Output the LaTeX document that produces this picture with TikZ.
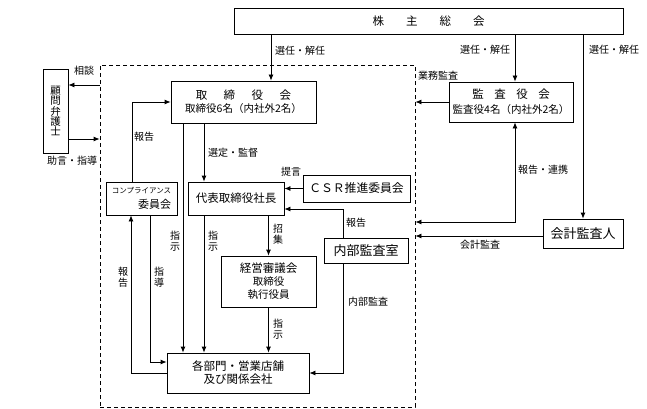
\documentclass[tikz,border=0pt]{standalone}
\usepackage{fontspec}
\setmainfont{Noto Sans CJK JP}
\usetikzlibrary{arrows.meta}
\begin{document}
\begin{tikzpicture}[x=1pt,y=-1pt,line width=0.8pt,>={Latex[length=6pt,width=5pt]},
    caja/.style={draw,inner sep=0pt,align=center,font=\fontsize{11.5}{13}\selectfont},
    etiq/.style={inner sep=0pt,align=center,font=\fontsize{10}{10.5}\selectfont}]
    \useasboundingbox (0,0) rectangle (647,409);
    		%marco
    		\node[draw,dash pattern=on 4pt off 3pt,minimum width=315pt,minimum height=342pt] at (257.5,236) (waku) {};
  		%%%% CAJAS!!!
  		\node[caja,minimum width=389pt,minimum height=26pt] at (428.5,21) (kabunushi) {株\hspace{22pt}主\hspace{22pt}総\hspace{22pt}会};
  		\node[caja,minimum width=25pt,minimum height=84pt,font=\fontsize{10.5}{10.4}\selectfont] at (55.5,111) (komon) {顧\\問\\弁\\護\\士};
  		\node[caja,minimum width=145pt,minimum height=42pt] at (243.5,102) (torishimari) {取\hspace{16.5pt}締\hspace{16.5pt}役\hspace{16.5pt}会\\{\fontsize{10.5}{13}\selectfont 取締役6名（内社外2名）}};
  		\node[caja,minimum width=124pt,minimum height=40pt,font=\fontsize{11.5}{15}\selectfont] at (511,102) (kansayaku) {監\hspace{10.5pt}査\hspace{10.5pt}役\hspace{10.5pt}会\\{\fontsize{10.5}{15}\selectfont 監査役4名（内社外2名）}};
  		\node[caja,minimum width=71pt,minimum height=33pt,align=right,font=\fontsize{11}{15}\selectfont] at (141.5,198.5) (compliance) {{\fontsize{7.5}{15}\selectfont コンプライアンス}\\委員会};
  		\node[caja,minimum width=96pt,minimum height=33pt] at (236,198.5) (daihyo) {代表取締役社長};
  		\node[caja,minimum width=107pt,minimum height=27pt,font=\fontsize{11.8}{13}\selectfont] at (356.5,188.5) (csr) {ＣＳＲ推進委員会};
  		\node[caja,minimum width=84pt,minimum height=25pt,font=\fontsize{13}{14}\selectfont] at (366,250.5) (naibukansa) {内部監査室};
  		\node[caja,minimum width=95pt,minimum height=51pt] at (268.5,281.5) (keiei) {経営審議会\\{\fontsize{10.5}{13}\selectfont 取締役}\\{\fontsize{10.5}{13}\selectfont 執行役員}};
  		\node[caja,minimum width=142pt,minimum height=40pt] at (238,373) (kakubumon) {各部門・営業店舗\\及び関係会社};
  		\node[caja,minimum width=80pt,minimum height=29pt,font=\fontsize{13}{14}\selectfont] at (583,233.5) (kaikei) {会計監査人};
  		%%%PUNTOS
  		\coordinate (torA) at ([xshift=27.5pt]torishimari.north);
  		\coordinate (torB) at ([xshift=-60.5pt]torishimari.south);
  		\coordinate (torC) at ([xshift=-39.5pt]torishimari.south);
  		\coordinate (kanA) at ([xshift=4pt]kansayaku.north);
  		\coordinate (kanB) at ([xshift=4pt]kansayaku.south);
  		\coordinate (komA) at ([yshift=26pt]komon.east);
  		\coordinate (komB) at ([yshift=-28pt]komon.east);
  		\coordinate (compA) at ([xshift=-9.5pt]compliance.north);
  		\coordinate (compB) at ([xshift=8.5pt]compliance.south);
  		\coordinate (compC) at ([xshift=-10.5pt]compliance.south);
  		\coordinate (kakA) at ([yshift=11pt]kakubumon.west);
  		\coordinate (daiA) at ([xshift=-32pt]daihyo.south);
  		\coordinate (daiB) at ([yshift=-10.5pt]daihyo.east);
  		\coordinate (naiA) at ([xshift=-23pt]naibukansa.north);
  		\coordinate (naiB) at ([xshift=-23pt]naibukansa.south);
  		\coordinate (kaiA) at ([yshift=11.5pt]kaikei.west);
  		\coordinate (kaiB) at ([yshift=-2.5pt]kaikei.west);
  		%%%FLECHAS
  		\draw[->] (kabunushi.south -| torA) -- (torA);
  		\draw[->] (kabunushi.south -| kanA) -- (kanA);
  		\draw[->] (kabunushi.south -| kaikei.north) -- (kaikei.north);
  		\draw[->] (waku.west |- komA) -- (komA);
  		\draw[->] (komB) -- (waku.west |- komB);
  		\draw[->] (compA) |- (torishimari.west);
  		\draw[->] (compB) |- (kakA);
  		\draw[->] (kakubumon.west) -| (compC);
  		\draw[->] (torB) -- (torB |- kakubumon.north);
  		\draw[->] (torC) -- (torC |- daihyo.north);
  		\draw[->] (daiA) -- (daiA |- kakubumon.north);
  		\draw[->] (daihyo.south -| keiei.north) -- (keiei.north);
  		\draw[->] (keiei.south) -- (keiei.south |- kakubumon.north);
  		\draw[->] (csr.west) -- (csr.west -| daihyo.east);
  		\draw[->] (naiA) |- (daiB);
  		\draw[->] (naiB) |- (kakubumon.east);
  		\draw[->] (kansayaku.west) -- (kansayaku.west -| waku.east);
  		\draw[<->] (kanB) |- (waku.east |- kaiA);
  		\draw[->] (kaiB) -- (waku.east |- kaiB);
  		%%%ETIQUETAS
  		\node[etiq] at (300,51) (lsen1) {選任・解任};
  		\node[etiq] at (485,50) (lsen2) {選任・解任};
  		\node[etiq] at (614,50) (lsen3) {選任・解任};
  		\node[etiq] at (84,71) (lsodan) {相談};
  		\node[etiq] at (72,161) (ljogen) {助言・指導};
  		\node[etiq] at (144,137) (lhoku1) {報告};
  		\node[etiq] at (233,153) (lsentei) {選定・監督};
  		\node[etiq] at (291,172) (lteigen) {提言};
  		\node[etiq] at (438,76) (lgyomu) {業務監査};
  		\node[etiq] at (543,170) (lrenkei) {報告・連携};
  		\node[etiq] at (480,245) (lkaikei) {会計監査};
  		\node[etiq] at (356,223) (lhoku2) {報告};
  		\node[etiq] at (175,241) (lshiji1) {指\\示};
  		\node[etiq] at (213,241) (lshiji2) {指\\示};
  		\node[etiq] at (278,234) (lshoshu) {招\\集};
  		\node[etiq] at (278,329) (lshiji3) {指\\示};
  		\node[etiq] at (123,277) (lhoku3) {報\\告};
  		\node[etiq] at (159,277) (lshido) {指\\導};
  		\node[etiq] at (368,302) (lnaibu) {内部監査};
\end{tikzpicture}
\end{document}
